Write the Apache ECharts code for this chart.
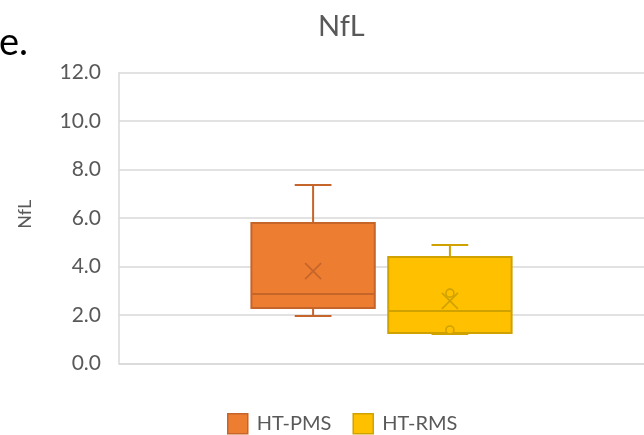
<!DOCTYPE html>
<html lang="en">
<head>
    <meta charset="UTF-8">
    <title>NfL</title>
    <script src="https://cdn.jsdelivr.net/npm/echarts@6/dist/echarts.min.js"></script>
    <style>
        html, body { margin: 0; padding: 0; background: #fff; }
        #container { width: 644px; height: 435px; }
    </style>
</head>
<body>
<div id="container"></div>
<script type="text/javascript">
    // box statistics
    var categories = ['HT-PMS', 'HT-RMS'];
    var boxMin = [1.97, 1.22];
    var boxQ1 = [2.30, 1.27];
    var boxMedian = [2.87, 2.17];
    var boxQ3 = [5.80, 4.40];
    var boxMax = [7.37, 4.90];
    var boxMean = [3.82, 2.59];
    var innerPoints = [[], [2.91, 1.39]];
    var yMin = 0, yMax = 12, yStep = 2;

    var fills = ['#ED7D31', '#FFC000'];
    var strokes = ['#C5652A', '#D0A200'];
    var offsets = [-0.1303, 0.1303];   // box centre, share of band
    var boxShare = 0.235, capShare = 0.07;

    function makeRender(i) {
        return function (params, api) {
            var band = api.size([1, 0])[0];
            var cx = api.coord([api.value(0), 0])[0] + offsets[i] * band;
            var bw = boxShare * band, cw = capShare * band;
            var y = function (k) { return api.coord([api.value(0), api.value(k)])[1]; };
            var yMn = y(1), yQ1 = y(2), yMd = y(3), yQ3 = y(4), yMx = y(5), yAvg = y(6);
            var line = { stroke: strokes[i], lineWidth: 2 };
            var kids = [
                { type: 'line', shape: { x1: cx, y1: yMx, x2: cx, y2: yQ3 }, style: line },
                { type: 'line', shape: { x1: cx, y1: yQ1, x2: cx, y2: yMn }, style: line },
                { type: 'line', shape: { x1: cx - cw / 2, y1: yMx, x2: cx + cw / 2, y2: yMx }, style: line },
                { type: 'line', shape: { x1: cx - cw / 2, y1: yMn, x2: cx + cw / 2, y2: yMn }, style: line },
                { type: 'rect', shape: { x: cx - bw / 2, y: yQ3, width: bw, height: yQ1 - yQ3 },
                  style: { fill: fills[i], stroke: strokes[i], lineWidth: 2 } },
                { type: 'line', shape: { x1: cx - bw / 2, y1: yMd, x2: cx + bw / 2, y2: yMd }, style: line },
                { type: 'line', shape: { x1: cx - 8, y1: yAvg - 8, x2: cx + 8, y2: yAvg + 8 }, style: { stroke: strokes[i], lineWidth: 1.6 } },
                { type: 'line', shape: { x1: cx - 8, y1: yAvg + 8, x2: cx + 8, y2: yAvg - 8 }, style: { stroke: strokes[i], lineWidth: 1.6 } }
            ];
            innerPoints[i].forEach(function (p) {
                var py = api.coord([api.value(0), p])[1];
                kids.push({ type: 'circle', shape: { cx: cx, cy: py, r: 4 },
                    style: { fill: fills[i], stroke: strokes[i], lineWidth: 1.6 } });
            });
            return { type: 'group', children: kids };
        };
    }

    var dom = document.getElementById('container');
    var myChart = echarts.init(dom);
    var option = {
        animation: false,
        textStyle: { fontFamily: 'Lato' },
        graphic: [{
            type: 'text', left: -1, top: 24,
            style: { text: 'e.', font: '38px Lato', fill: '#000' }
        }],
        title: {
            text: 'NfL',
            left: 313,
            top: 7,
            textStyle: { fontSize: 29, fontWeight: 'normal', color: '#595959', fontFamily: 'Lato' }
        },
        legend: {
            left: 222,
            top: 408,
            itemWidth: 20,
            itemHeight: 20,
            itemGap: 21,
            textStyle: { fontSize: 20, color: '#595959', padding: [0, 0, 0, 4] },
            data: categories.map(function (c, i) {
                return { name: c, icon: 'rect',
                    itemStyle: { color: fills[i], borderColor: strokes[i], borderWidth: 1.5 } };
            })
        },
        grid: { left: 119, right: -2.5, top: 72.7, bottom: 71.3 },
        xAxis: {
            type: 'category',
            data: ['NfL'],
            axisLine: { show: true, lineStyle: { color: '#D9D9D9', width: 1.5 } },
            axisTick: { show: false },
            axisLabel: { show: false },
            splitLine: { show: false }
        },
        yAxis: {
            type: 'value',
            min: yMin, max: yMax, interval: yStep,
            name: 'NfL',
            nameLocation: 'middle',
            nameGap: 85,
            nameRotate: 90,
            nameTextStyle: { fontSize: 18, color: '#595959', fontFamily: 'Lato', padding: [0, 0, 0, 8] },
            axisLine: { show: true, lineStyle: { color: '#D9D9D9', width: 1.5 } },
            axisTick: { show: false },
            axisLabel: {
                fontSize: 21, color: '#595959', margin: 18,
                formatter: function (v) { return v.toFixed(1); }
            },
            splitLine: { lineStyle: { color: '#D9D9D9', width: 1.5 } }
        },
        series: categories.map(function (name, i) {
            return {
                type: 'custom',
                name: name,
                itemStyle: { color: fills[i], borderColor: strokes[i] },
                encode: { x: 0, y: [1, 2, 3, 4, 5, 6] },
                data: [[0, boxMin[i], boxQ1[i], boxMedian[i], boxQ3[i], boxMax[i], boxMean[i]]],
                renderItem: makeRender(i)
            };
        })
    };
    myChart.setOption(option, true);
</script>
</body>
</html>
